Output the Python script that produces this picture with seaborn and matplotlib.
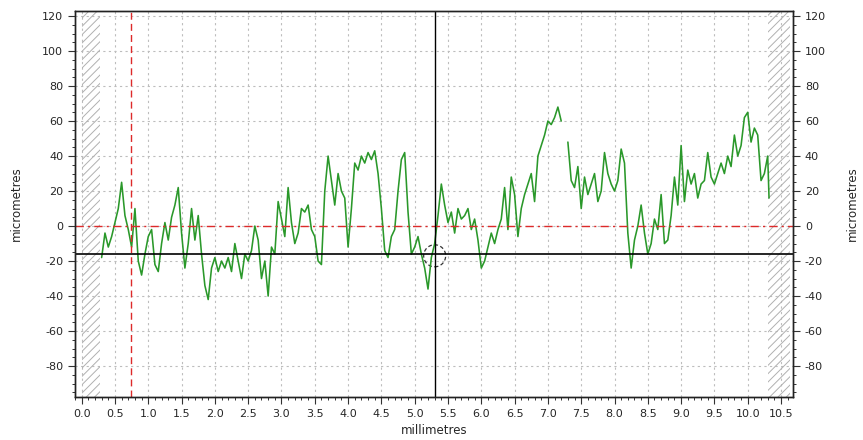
import numpy as np
import pandas as pd
import matplotlib
matplotlib.use("Agg")
import matplotlib.pyplot as plt
import matplotlib.ticker as ticker
from matplotlib.patches import Ellipse
import seaborn as sns

# profile sampled every 0.05 mm from 0.30 mm to 10.30 mm (nan = gap)
x_start, x_step = 0.30, 0.05
height_um = [
    -18, -4, -12, -6, 2, 10, 25, 6, -2, -12,
    10, -20, -28, -16, -6, -2, -22, -26, -10, 2,
    -8, 5, 12, 22, -4, -24, -10, 10, -8, 6,
    -16, -34, -42, -24, -18, -26, -20, -24, -18, -26,
    -10, -20, -30, -16, -20, -14, 0, -8, -30, -20,
    -40, -12, -16, 14, 4, -6, 22, 2, -10, -4,
    10, 8, 12, -2, -6, -20, -22, 20, 40, 26,
    12, 30, 20, 16, -12, 10, 36, 32, 40, 36,
    42, 38, 43, 30, 10, -14, -18, -6, -2, 20,
    38, 42, 8, -16, -12, -6, -16, -24, -36, -18,
    -10, 6, 24, 12, 2, 8, -4, 10, 4, 6,
    10, -2, 4, -8, -24, -20, -12, -4, -10, -2,
    4, 22, -2, 28, 18, -6, 10, 18, 24, 30,
    14, 40, 46, 52, 60, 58, 62, 68, 60, np.nan,
    48, 26, 22, 34, 10, 28, 18, 24, 30, 14,
    20, 42, 30, 24, 20, 26, 44, 36, -4, -24,
    -8, 0, 12, -4, -16, -10, 4, -2, 18, -10,
    -8, 6, 28, 12, 46, 14, 32, 24, 30, 16,
    24, 26, 42, 28, 24, 30, 36, 30, 40, 34,
    52, 40, 46, 62, 65, 48, 56, 52, 26, 30,
    40,
]
tail_mm = [10.32]
tail_um = [16]

# markers and cursors
ref_line_um = 0.0
ref_cursor_mm = 0.735
cursor_mm = 5.30
cursor_um = -16.0
hatch_left = (0.0, 0.28)
hatch_right = (10.31, 10.63)

y_ticks = [120, 100, 80, 60, 40, 20, 0, -20, -40, -60, -80]
x_ticks = [i * 0.5 for i in range(22)]

pos = list(np.round(x_start + x_step * np.arange(len(height_um)), 3)) + tail_mm
vals = height_um + tail_um
df = pd.DataFrame({"mm": pos, "um": vals})
df["seg"] = df["um"].isna().cumsum()
df = df.dropna()

sns.set_style("ticks")
plt.rcParams["font.family"] = ["DejaVu Sans"]
plt.rcParams["hatch.linewidth"] = 0.7
plt.rcParams["hatch.color"] = "#b0b0b0"

fig = plt.figure(figsize=(8.63, 4.40), dpi=100)
ax = fig.add_axes([0.0869, 0.0977, 0.8320, 0.8773])

ax.axvspan(*hatch_left, facecolor="none", edgecolor="#b0b0b0", hatch="////", lw=0)
ax.axvspan(*hatch_right, facecolor="none", edgecolor="#b0b0b0", hatch="////", lw=0)

sns.lineplot(data=df, x="mm", y="um", units="seg", estimator=None,
             color="#2a982a", lw=1.15, ax=ax)

ax.axhline(ref_line_um, color="#dd2a2a", lw=1.0, ls=(0, (6, 3, 1.5, 3)))
ax.axvline(ref_cursor_mm, color="#dd2a2a", lw=1.0, ls=(0, (5, 3)))
ax.axhline(cursor_um, color="black", lw=1.2)
ax.axvline(cursor_mm, color="black", lw=1.0)
ax.add_patch(Ellipse((cursor_mm, cursor_um - 1), 0.33, 12.6, fill=False,
                     ls=(0, (3, 2)), lw=0.9, color="#333333"))

ax.set_xlim(-0.1, 10.68)
ax.set_ylim(-97.7, 122.9)
ax.set_xticks(x_ticks)
ax.set_xticklabels([f"{t:.1f}" for t in x_ticks])
ax.xaxis.set_minor_locator(ticker.MultipleLocator(0.1))
ax.set_yticks(y_ticks)
ax.set_yticklabels([str(t) for t in y_ticks])
ax.yaxis.set_minor_locator(ticker.MultipleLocator(5))
ax.grid(True, which="major", color="#bdbdbd", lw=0.8, ls=(0, (2, 3)))
ax.tick_params(which="major", length=5, width=0.8, labelsize=8, color="#333333")
ax.tick_params(which="minor", length=2.5, width=0.7, color="#333333")
ax.set_xlabel("millimetres", fontsize=8.5, labelpad=4)
ax.set_ylabel("micrometres", fontsize=8.5, labelpad=14)

ax2 = ax.twinx()
ax2.set_ylim(ax.get_ylim())
ax2.set_yticks(y_ticks)
ax2.set_yticklabels([str(t) for t in y_ticks])
ax2.yaxis.set_minor_locator(ticker.MultipleLocator(5))
ax2.tick_params(which="major", length=5, width=0.8, labelsize=8, color="#333333")
ax2.tick_params(which="minor", length=2.5, width=0.7, color="#333333")
ax2.set_ylabel("micrometres", fontsize=8.5, labelpad=14)

for a in (ax, ax2):
    for s in a.spines.values():
        s.set_color("#222222")
        s.set_linewidth(1.0)

fig.savefig("out.png", dpi=100, facecolor="white")
